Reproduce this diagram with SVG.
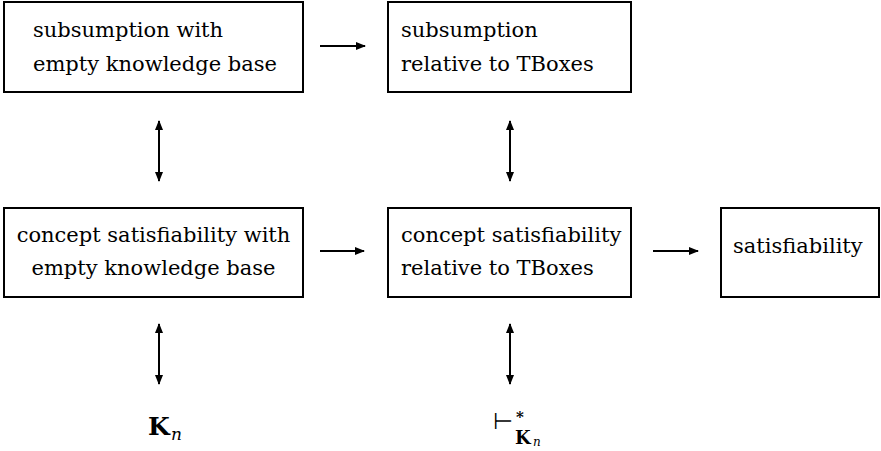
<svg xmlns="http://www.w3.org/2000/svg" width="881" height="451" viewBox="0 0 881 451">
<style>
.box{fill:none;stroke:#000;stroke-width:2}
.t{font-family:"DejaVu Serif","Liberation Serif",serif;font-size:21px;fill:#000}
.c{stroke:#000;stroke-width:2;fill:none}
.m{font-family:"DejaVu Serif","Liberation Serif",serif;fill:#000}
</style>
<defs>
<marker id="ah" viewBox="0 0 10 10" refX="9" refY="5" markerWidth="5" markerHeight="5" orient="auto-start-reverse" markerUnits="strokeWidth">
<path d="M0,1 L10,5 L0,9 Z" fill="#000"/>
</marker>
</defs>
<rect width="881" height="451" fill="#fff"/>
<g id="n1">
<rect class="box" x="4" y="2" width="299" height="90"/>
<text class="t" x="33" y="37">subsumption with</text>
<text class="t" x="33" y="71">empty knowledge base</text>
</g>
<g id="n2">
<rect class="box" x="388" y="2" width="243" height="90"/>
<text class="t" x="401" y="37">subsumption</text>
<text class="t" x="401" y="71">relative to TBoxes</text>
</g>
<g id="n3">
<rect class="box" x="4" y="208" width="299" height="89"/>
<text class="t" x="153.5" y="242" text-anchor="middle">concept satisfiability with</text>
<text class="t" x="153.5" y="275" text-anchor="middle">empty knowledge base</text>
</g>
<g id="n4">
<rect class="box" x="388" y="208" width="243" height="89"/>
<text class="t" x="401" y="242">concept satisfiability</text>
<text class="t" x="401" y="275">relative to TBoxes</text>
</g>
<g id="n5">
<rect class="box" x="721" y="208" width="158" height="89"/>
<text class="t" x="733" y="253">satisfiability</text>
</g>
<g id="n6">
<text class="m"><tspan x="148" y="435" font-size="25" font-weight="bold">K</tspan><tspan x="171" y="440" font-size="17" font-style="italic">n</tspan></text>
</g>
<g id="n7">
<text class="m"><tspan x="493" y="429" font-size="23" font-family="DejaVu Sans, sans-serif">⊢</tspan><tspan x="516" y="422" font-size="15" font-weight="bold">*</tspan><tspan x="515" y="444" font-size="18" font-weight="bold">K</tspan><tspan x="533" y="446" font-size="12" font-style="italic">n</tspan></text>
</g>
<g id="connectors">
<line class="c" x1="320" y1="46" x2="365" y2="46" marker-end="url(#ah)"/>
<line class="c" x1="320" y1="251" x2="364" y2="251" marker-end="url(#ah)"/>
<line class="c" x1="653" y1="251" x2="698" y2="251" marker-end="url(#ah)"/>
<line class="c" x1="159" y1="121" x2="159" y2="181" marker-start="url(#ah)" marker-end="url(#ah)"/>
<line class="c" x1="510" y1="121" x2="510" y2="181" marker-start="url(#ah)" marker-end="url(#ah)"/>
<line class="c" x1="159" y1="324" x2="159" y2="384" marker-start="url(#ah)" marker-end="url(#ah)"/>
<line class="c" x1="510" y1="324" x2="510" y2="384" marker-start="url(#ah)" marker-end="url(#ah)"/>
</g>
</svg>
